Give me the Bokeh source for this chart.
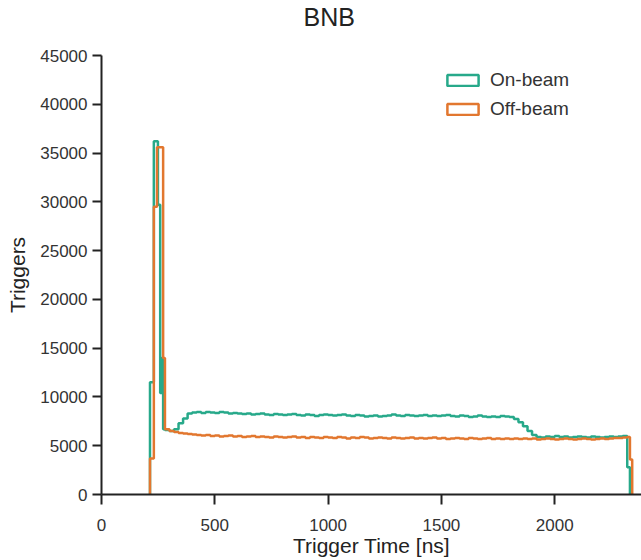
from bokeh.plotting import figure
from bokeh.models import ColumnDataSource, Legend, LegendItem, Range1d, Title
from bokeh.embed import file_html
from bokeh.resources import INLINE

# ---------------- data ----------------
title_text = "BNB"
x_label = "Trigger Time [ns]"
y_label = "Triggers"
x_tick_values = [0, 500, 1000, 1500, 2000]
y_tick_values = [0, 5000, 10000, 15000, 20000, 25000, 30000, 35000, 40000, 45000]
series_names = ["On-beam", "Off-beam"]

# peak region: bin start times (ns) and counts
on_peak_start = [214, 231, 249, 259, 266, 272]
on_peak = [11500, 36200, 29700, 10400, 14000, 6700]
off_peak_start = [214, 231, 245, 272]
off_peak = [3700, 29500, 35600, 14000]

# plateau: 20 ns bins from 280 ns to 2320 ns
plateau_start = list(range(280, 2301, 20))
on_plateau = [
    6600, 6500, 6700, 7300, 7800, 8300, 8400, 8450, 8350, 8450,
    8400, 8350, 8450, 8400, 8300, 8350, 8300, 8250, 8300, 8200,
    8250, 8300, 8200, 8150, 8250, 8200, 8150, 8200, 8250, 8150,
    8100, 8200, 8150, 8050, 8150, 8200, 8150, 8100, 8150, 8200,
    8100, 8050, 8150, 8100, 8000, 8050, 8100, 8000, 8050, 8100,
    8200, 8100, 8050, 8150, 8100, 8050, 8100, 8150, 8050, 8100,
    8050, 8100, 8150, 8050, 8000, 8100, 8050, 7950, 8000, 8100,
    8000, 7950, 8000, 7950, 8050, 8000, 7950, 7750, 7400, 7000,
    6500, 6100, 5900, 5850, 5950, 5900, 6000, 5900, 5950, 5850,
    5900, 5950, 5900, 5850, 5950, 5900, 5850, 5900, 5950, 5900,
    5950, 6000,
]
off_plateau = [
    6700, 6500, 6400, 6300, 6250, 6200, 6150, 6100, 6050, 6100,
    6000, 6050, 5950, 6000, 6050, 5950, 6000, 5900, 5950, 6000,
    5900, 5950, 5900, 5850, 5950, 5900, 5850, 5900, 5950, 5850,
    5900, 5800, 5900, 5850, 5800, 5900, 5850, 5800, 5900, 5850,
    5750, 5850, 5800, 5900, 5850, 5750, 5800, 5850, 5800, 5750,
    5850, 5800, 5750, 5800, 5850, 5750, 5800, 5750, 5800, 5850,
    5750, 5800, 5700, 5750, 5800, 5750, 5700, 5800, 5750, 5700,
    5750, 5800, 5700, 5750, 5700, 5750, 5700, 5750, 5700, 5750,
    5700, 5750, 5650, 5700, 5750, 5700, 5650, 5700, 5750, 5700,
    5650, 5700, 5750, 5700, 5650, 5700, 5750, 5700, 5750, 5800,
    5800, 5850,
]

# tail bins
on_tail_start = [2320]
on_tail = [2800]
on_end = 2332
off_tail_start = [2320, 2332]
off_tail = [5900, 3600]
off_end = 2342

GREEN = "#27a98a"
ORANGE = "#e2772f"


def step_xy(starts, vals, end):
    xs = [starts[0]] + starts + [end]
    ys = [0] + vals + [0]
    return xs, ys


on_x, on_y = step_xy(on_peak_start + plateau_start + on_tail_start,
                     on_peak + on_plateau + on_tail, on_end)
off_x, off_y = step_xy(off_peak_start + plateau_start + off_tail_start,
                       off_peak + off_plateau + off_tail, off_end)

FONT = "Liberation Sans"

p = figure(width=641, height=560, output_backend="svg", toolbar_location=None,
           x_range=Range1d(0, 2383), y_range=Range1d(0, 45000),
           min_border_left=101, min_border_right=0, min_border_top=55,
           min_border_bottom=66)
p.background_fill_color = "white"
p.border_fill_color = "white"
p.outline_line_color = None
p.grid.visible = False

# real title (outer slot)
p.title.text = title_text
p.title.text_font = FONT
p.title.text_font_size = "25px"
p.title.text_font_style = "normal"
p.title.text_color = "#222222"
p.title.align = "left"
p.title.offset = 202
p.title.standoff = 0
# blank spacer between the title and the plot frame
p.add_layout(Title(text=" ", text_font_size="10px", standoff=12), "above")

for ax in (p.xaxis[0], p.yaxis[0]):
    ax.axis_line_width = 2
    ax.axis_line_color = "#222222"
    ax.major_tick_line_width = 2
    ax.major_tick_line_color = "#222222"
    ax.major_tick_in = 0
    ax.minor_tick_line_color = None
    ax.major_label_text_font = FONT
    ax.major_label_text_font_size = "17px"
    ax.major_label_text_color = "#333333"
    ax.axis_label_text_font = FONT
    ax.axis_label_text_font_size = "21px"
    ax.axis_label_text_font_style = "normal"
    ax.axis_label_text_color = "#222222"

p.xaxis.ticker = x_tick_values
p.yaxis.ticker = y_tick_values
p.xaxis.major_tick_out = 10
p.yaxis.major_tick_out = 9
p.xaxis.major_label_standoff = 14
p.yaxis.major_label_standoff = 5
p.xaxis.axis_label = x_label
p.yaxis.axis_label = y_label
p.xaxis.axis_label_standoff = 0
p.yaxis.axis_label_standoff = 8

p.step(on_x, on_y, mode="after", line_color=GREEN, line_width=2.5)
p.step(off_x, off_y, mode="after", line_color=ORANGE, line_width=2.5)

# legend proxies (placed left of the visible x range, so clipped away)
proxy = dict(left=[-60], right=[-40], top=[1], bottom=[0])
r_on = p.quad(source=ColumnDataSource(proxy), left="left", right="right", top="top",
              bottom="bottom", fill_color="white", line_color=GREEN, line_width=2.5)
r_off = p.quad(source=ColumnDataSource(dict(proxy)), left="left", right="right", top="top",
               bottom="bottom", fill_color="white", line_color=ORANGE, line_width=2.5)

legend = Legend(items=[LegendItem(label=series_names[0], renderers=[r_on]),
                       LegendItem(label=series_names[1], renderers=[r_off])],
                location=(342, 374), padding=0, margin=0, spacing=7,
                glyph_width=39, glyph_height=14, label_height=22, label_standoff=8,
                border_line_color=None, background_fill_alpha=0,
                label_text_font=FONT, label_text_font_size="19px",
                label_text_color="#333333")
p.add_layout(legend)

open("out.html", "w").write(file_html(p, INLINE))
